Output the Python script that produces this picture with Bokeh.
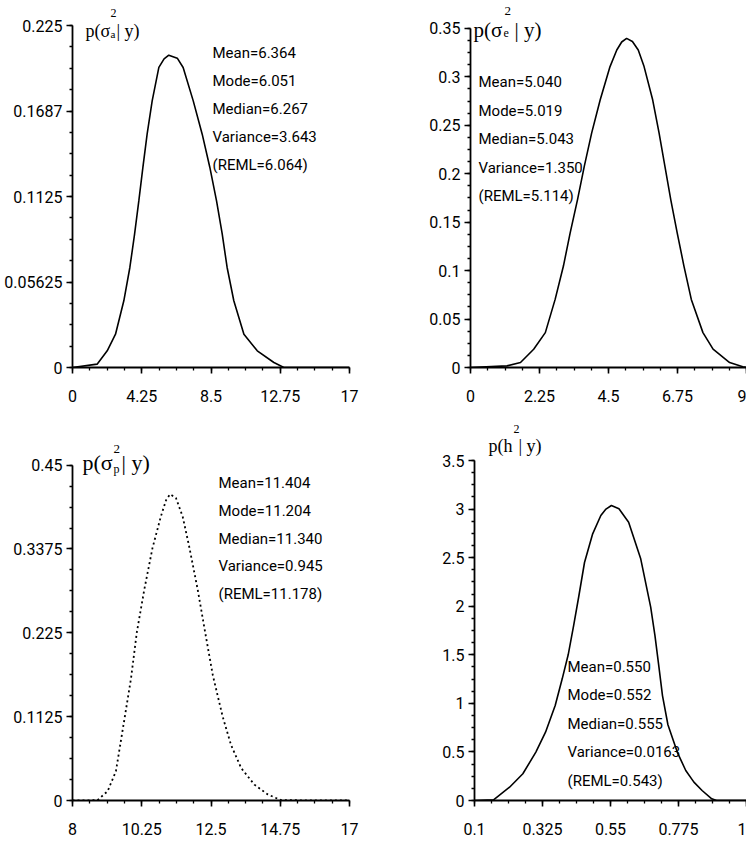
#
# Posterior densities of the variance components and heritability
#
import numpy as np
from bokeh.plotting import figure
from bokeh.layouts import column, row
from bokeh.models import Range1d, FixedTicker, Label
from bokeh.embed import file_html
from bokeh.resources import INLINE

# p(sigma_a^2 | y)
sa_x = [0, 1.51, 2.13, 2.64, 3.15, 3.52, 3.81, 4.07, 4.32, 4.58, 4.89, 5.30, 5.62, 5.91,
        6.43, 6.79, 7.41, 7.96, 8.43, 8.84, 9.19, 9.49, 9.90, 10.52, 11.34, 12.36, 12.97, 17]
sa_y = [0, 0.0022, 0.011, 0.0219, 0.0439, 0.0658, 0.0877, 0.1096, 0.1316, 0.1535, 0.1754, 0.1974,
        0.2030, 0.2055, 0.2035, 0.1974, 0.1754, 0.1535, 0.1316, 0.1096, 0.0877, 0.0658, 0.0439,
        0.0219, 0.011, 0.0033, 0, 0]

# p(sigma_e^2 | y)
se_x = [0, 1.19, 1.63, 2.06, 2.44, 2.76, 3.03, 3.25, 3.49, 3.71, 3.95, 4.23, 4.55, 4.77, 4.93,
        5.09, 5.28, 5.47, 5.66, 5.94, 6.15, 6.34, 6.53, 6.74, 6.96, 7.20, 7.58, 7.91, 8.45, 8.88, 9]
se_y = [0, 0.0017, 0.0051, 0.0189, 0.0360, 0.0703, 0.1047, 0.1390, 0.1733, 0.2076, 0.2419,
        0.2763, 0.3106, 0.3277, 0.3360, 0.3397, 0.3365, 0.3277, 0.3106, 0.2763, 0.2419, 0.2076,
        0.1733, 0.1390, 0.1047, 0.0703, 0.0360, 0.0189, 0.0051, 0.0007, 0]

# p(sigma_p^2 | y)
sp_x = [8, 8.81, 9.14, 9.41, 9.70, 9.90, 10.09, 10.33, 10.60, 10.87, 11.04, 11.17, 11.36, 11.58,
        11.80, 12.07, 12.31, 12.56, 12.88, 13.15, 13.48, 13.91, 14.35, 14.78, 17]
sp_y = [0, 0.0004, 0.0124, 0.0391, 0.1124, 0.1635, 0.2257, 0.2825, 0.3390, 0.3810, 0.4030,
        0.4110, 0.4060, 0.3810, 0.3390, 0.2825, 0.2257, 0.1679, 0.1124, 0.0746, 0.0435, 0.0213,
        0.0080, 0.0004, 0]

# p(h^2 | y)
h2_x = [0.1, 0.163, 0.216, 0.260, 0.303, 0.335, 0.367, 0.390, 0.410, 0.428, 0.445, 0.464, 0.491,
        0.518, 0.535, 0.553, 0.578, 0.610, 0.650, 0.683, 0.697, 0.710, 0.722, 0.740, 0.772, 0.799,
        0.826, 0.853, 0.885, 0.901, 1.0]
h2_y = [0, 0.007, 0.137, 0.275, 0.498, 0.703, 0.978, 1.25, 1.50, 1.80, 2.10, 2.45, 2.745,
        2.934, 3.000, 3.037, 3.003, 2.865, 2.488, 1.990, 1.70, 1.38, 1.08, 0.78, 0.49, 0.309,
        0.189, 0.103, 0.017, 0, 0]

# summary statistics shown in each panel
sa_stats = ["Mean=6.364", "Mode=6.051", "Median=6.267", "Variance=3.643", "(REML=6.064)"]
se_stats = ["Mean=5.040", "Mode=5.019", "Median=5.043", "Variance=1.350", "(REML=5.114)"]
sp_stats = ["Mean=11.404", "Mode=11.204", "Median=11.340", "Variance=0.945", "(REML=11.178)"]
h2_stats = ["Mean=0.550", "Mode=0.552", "Median=0.555", "Variance=0.0163", "(REML=0.543)"]

# tick values and the labels printed for them
sa_xticks = [0, 4.25, 8.5, 12.75, 17]
sa_xlabels = ["0", "4.25", "8.5", "12.75", "17"]
sa_yticks = [0, 0.05625, 0.1125, 0.16875, 0.225]
sa_ylabels = ["0", "0.05625", "0.1125", "0.1687", "0.225"]
se_xticks = [0, 2.25, 4.5, 6.75, 9]
se_xlabels = ["0", "2.25", "4.5", "6.75", "9"]
se_yticks = [0, 0.05, 0.1, 0.15, 0.2, 0.25, 0.3, 0.35]
se_ylabels = ["0", "0.05", "0.1", "0.15", "0.2", "0.25", "0.3", "0.35"]
sp_xticks = [8, 10.25, 12.5, 14.75, 17]
sp_xlabels = ["8", "10.25", "12.5", "14.75", "17"]
sp_yticks = [0, 0.1125, 0.225, 0.3375, 0.45]
sp_ylabels = ["0", "0.1125", "0.225", "0.3375", "0.45"]
h2_xticks = [0.1, 0.325, 0.55, 0.775, 1.0]
h2_xlabels = ["0.1", "0.325", "0.55", "0.775", "1"]
h2_yticks = [0, 0.5, 1, 1.5, 2, 2.5, 3, 3.5]
h2_ylabels = ["0", "0.5", "1", "1.5", "2", "2.5", "3", "3.5"]

SANS = "Roboto"
SERIF = "Liberation Serif"


def make_panel(xt, xl, yt, yl, w, h, bl, bt, br, bb, x_standoff):
    y0, y1 = yt[0], yt[-1]
    fw, fh = w - bl - br, h - bt - bb
    # the frame runs up to the top of the canvas so the titles are not clipped;
    # the axis itself stops at the top tick
    y_top = y1 + bt / fh * (y1 - y0)
    p = figure(width=w, height=h, x_range=Range1d(xt[0], xt[-1]), y_range=Range1d(y0, y_top),
               output_backend="svg", toolbar_location=None,
               min_border_left=bl, min_border_top=0, min_border_right=br, min_border_bottom=bb)
    p.grid.visible = False
    p.outline_line_color = None
    p.background_fill_color = "white"
    p.border_fill_color = "white"
    p.tags = [fw, fh, y0, y1]
    for ax, ticks, labels in ((p.xaxis[0], xt, xl), (p.yaxis[0], yt, yl)):
        step = (ticks[1] - ticks[0]) / 4
        minors = [float(v) for v in np.arange(ticks[0], ticks[-1] + step / 2, step)]
        ax.ticker = FixedTicker(ticks=ticks, minor_ticks=minors)
        ax.major_label_overrides = dict(zip(ticks, labels))
        ax.axis_line_width = 1.8
        ax.axis_line_color = "black"
        ax.major_tick_in = 0
        ax.major_tick_out = 6
        ax.minor_tick_in = 0
        ax.minor_tick_out = 3
        ax.major_tick_line_width = 1.6
        ax.minor_tick_line_width = 1.3
        ax.major_label_text_font = SANS
        ax.major_label_text_font_size = "16px"
        ax.major_label_text_color = "black"
    p.yaxis[0].bounds = (y0, y1)
    p.yaxis[0].major_label_standoff = 4
    p.xaxis[0].major_label_standoff = x_standoff
    return p


def put(p, fx, fy, text, size, font):
    # fx, fy: pixels from the top-left corner of the plotted area (top tick)
    fw, fh, y0, y1 = p.tags
    x = p.x_range.start + fx / fw * (p.x_range.end - p.x_range.start)
    y = y1 - fy / fh * (y1 - y0)
    p.add_layout(Label(x=x, y=y, text=text, text_font=font, text_font_size=size,
                       text_color="black", text_align="left", text_baseline="middle"))


def stats_block(p, lines, fx, fy, gap):
    for i, s in enumerate(lines):
        put(p, fx, fy + i * gap, s, "15px", SANS)


# top left
p1 = make_panel(sa_xticks, sa_xlabels, sa_yticks, sa_ylabels, 373, 420, 72, 25, 24, 53, 16)
p1.line(sa_x, sa_y, line_color="black", line_width=1.6)
put(p1, 13, 5, "p(σ", "18px", SERIF)
put(p1, 38, -13, "2", "12px", SERIF)
put(p1, 38, 8, "a", "11px", SERIF)
put(p1, 44, 5, "| y)", "18px", SERIF)
stats_block(p1, sa_stats, 140, 27, 28)

# top right
p2 = make_panel(se_xticks, se_xlabels, se_yticks, se_ylabels, 373, 420, 97, 28, 0, 52, 16)
p2.line(se_x, se_y, line_color="black", line_width=1.6)
put(p2, 3, 2, "p(σ", "21px", SERIF)
put(p2, 34, -17, "2", "13px", SERIF)
put(p2, 33, 5, "e", "12px", SERIF)
put(p2, 44, 2, "| y)", "21px", SERIF)
stats_block(p2, se_stats, 8, 54, 28.6)

# bottom left
p3 = make_panel(sp_xticks, sp_xlabels, sp_yticks, sp_ylabels, 373, 425, 72, 45, 24, 42, 16)
p3.line(sp_x, sp_y, line_color="black", line_width=1.8, line_dash="2 3")
put(p3, 10, -3, "p(σ", "22px", SERIF)
put(p3, 41, -16, "2", "13px", SERIF)
put(p3, 41, 4, "p", "12px", SERIF)
put(p3, 49, -3, "| y)", "22px", SERIF)
stats_block(p3, sp_stats, 146, 18, 28)

# bottom right
p4 = make_panel(h2_xticks, h2_xlabels, h2_yticks, h2_ylabels, 373, 425, 101, 40, 0, 45, 16)
p4.line(h2_x, h2_y, line_color="black", line_width=1.6)
put(p4, 14, -15, "p(h", "18px", SERIF)
put(p4, 39, -32, "2", "12px", SERIF)
put(p4, 44, -15, "| y)", "18px", SERIF)
stats_block(p4, h2_stats, 93, 206, 28.5)

p = column(row(p1, p2), row(p3, p4))

open("out.html", "w").write(file_html(p, INLINE))
